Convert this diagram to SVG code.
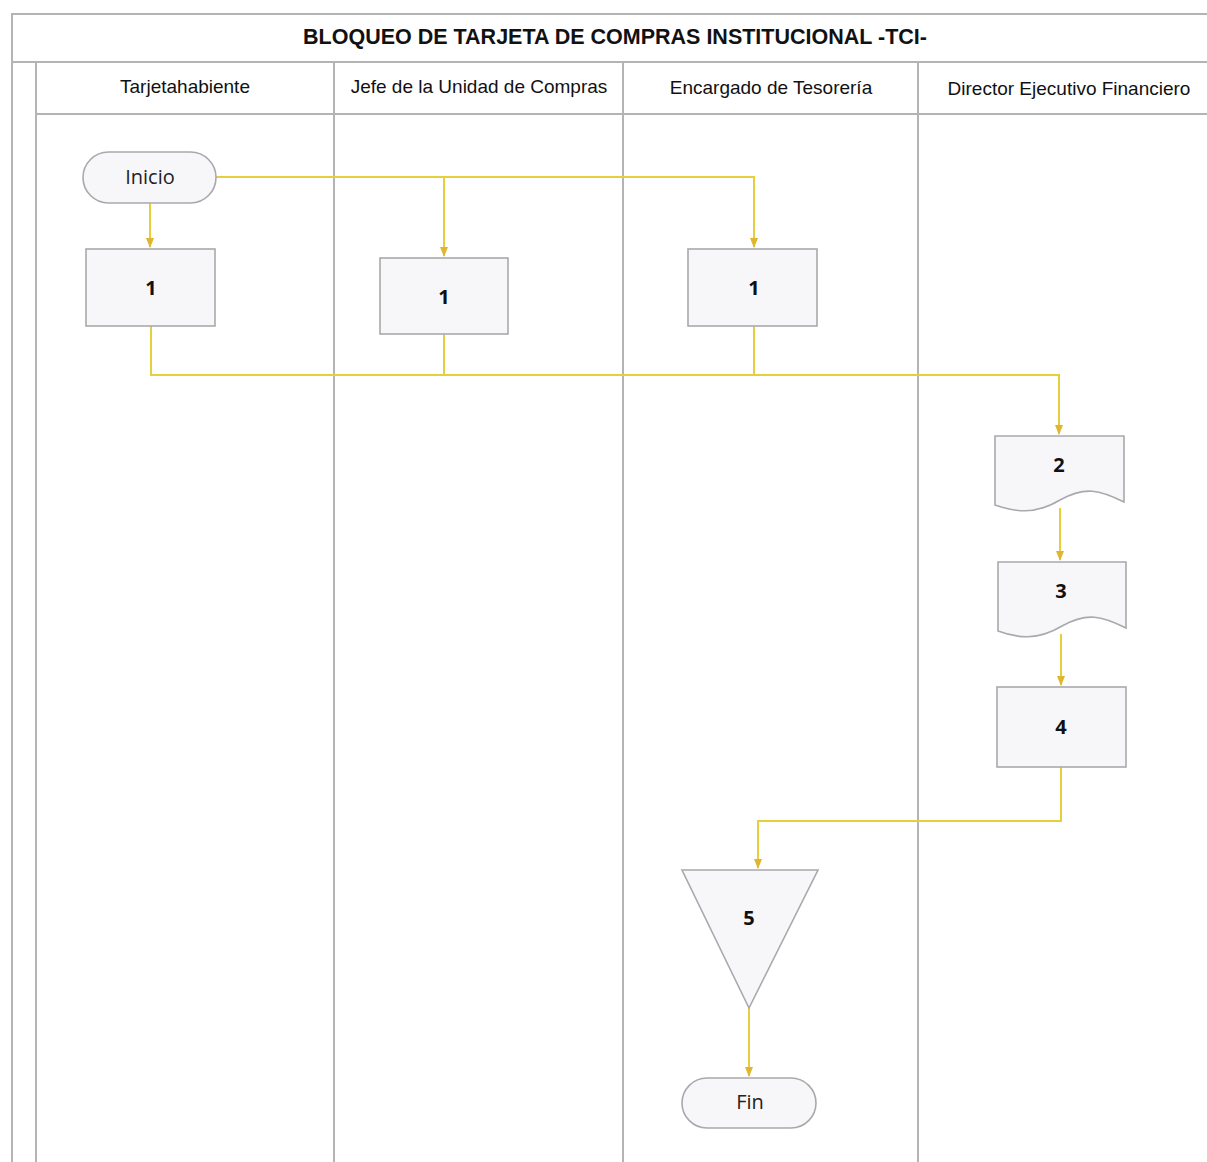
<svg xmlns="http://www.w3.org/2000/svg" width="1207" height="1162" viewBox="0 0 1207 1162">
<style>
.frame{fill:none;stroke:#b4b4b4;stroke-width:2}
.hdr{font-family:"Liberation Sans",Arial,sans-serif;font-size:19px;fill:#111;text-anchor:middle}
.title{font-family:"Liberation Sans",Arial,sans-serif;font-size:21.5px;font-weight:bold;fill:#111;text-anchor:middle}
.node{fill:#f7f7f9;stroke:#a9a9ad;stroke-width:1.6}
.lbl{font-family:"Open Sans","Noto Sans",sans-serif;font-size:20px;font-weight:bold;fill:#111;text-anchor:middle}
.term{font-family:"Open Sans","Noto Sans",sans-serif;font-size:20px;fill:#222;text-anchor:middle}
.con{fill:none;stroke:#e6cf3c;stroke-width:2}
</style>
<defs>
<marker id="arr" viewBox="0 0 10 10" refX="9" refY="5" markerWidth="5" markerHeight="5" orient="auto">
<path d="M0,1 L10,5 L0,9 z" fill="#e0b62e"/>
</marker>
</defs>
<rect width="1207" height="1162" fill="#ffffff"/>
<g id="pool">
<path class="frame" d="M12,1162 V14 H1207"/>
<line class="frame" x1="12" y1="62" x2="1207" y2="62"/>
<line class="frame" x1="36" y1="114" x2="1207" y2="114"/>
<line class="frame" x1="36" y1="62" x2="36" y2="1162"/>
<line class="frame" x1="334" y1="62" x2="334" y2="1162"/>
<line class="frame" x1="623" y1="62" x2="623" y2="1162"/>
<line class="frame" x1="918" y1="62" x2="918" y2="1162"/>
<text class="title" x="615" y="44">BLOQUEO DE TARJETA DE COMPRAS INSTITUCIONAL -TCI-</text>
<text class="hdr" x="185" y="93">Tarjetahabiente</text>
<text class="hdr" x="479" y="93">Jefe de la Unidad de Compras</text>
<text class="hdr" x="771" y="94">Encargado de Tesorería</text>
<text class="hdr" x="1069" y="95">Director Ejecutivo Financiero</text>
</g>
<g id="connectors">
<path class="con" d="M216,177 H754 V247" marker-end="url(#arr)"/>
<path class="con" d="M444,177 V256" marker-end="url(#arr)"/>
<path class="con" d="M150,203 V247" marker-end="url(#arr)"/>
<path class="con" d="M151,326 V375 H1059 V434" marker-end="url(#arr)"/>
<path class="con" d="M444,334 V375"/>
<path class="con" d="M754,326 V375"/>
<path class="con" d="M1060,508 V560" marker-end="url(#arr)"/>
<path class="con" d="M1061,634 V685" marker-end="url(#arr)"/>
<path class="con" d="M1061,767 V821 H758 V868" marker-end="url(#arr)"/>
<path class="con" d="M749,1008 V1076" marker-end="url(#arr)"/>
</g>
<g id="inicio">
<rect class="node" x="83" y="152" width="133" height="51" rx="25.5"/>
<text class="term" x="150" y="184">Inicio</text>
</g>
<g id="n1a">
<rect class="node" x="86" y="249" width="129" height="77"/>
<text class="lbl" x="151" y="295">1</text>
</g>
<g id="n1b">
<rect class="node" x="380" y="258" width="128" height="76"/>
<text class="lbl" x="444" y="304">1</text>
</g>
<g id="n1c">
<rect class="node" x="688" y="249" width="129" height="77"/>
<text class="lbl" x="754" y="295">1</text>
</g>
<g id="n2">
<path class="node" d="M995,436 H1124 V502 C1100,490 1085,486 1060,500 C1035,515 1015,512 995,505 Z"/>
<text class="lbl" x="1059" y="472">2</text>
</g>
<g id="n3">
<path class="node" d="M998,562 H1126 V628 C1102,616 1087,612 1062,626 C1037,641 1017,638 998,631 Z"/>
<text class="lbl" x="1061" y="598">3</text>
</g>
<g id="n4">
<rect class="node" x="997" y="687" width="129" height="80"/>
<text class="lbl" x="1061" y="734">4</text>
</g>
<g id="n5">
<path class="node" d="M682,870 H818 L749,1008 Z"/>
<text class="lbl" x="749" y="925">5</text>
</g>
<g id="fin">
<rect class="node" x="682" y="1078" width="134" height="50" rx="25"/>
<text class="term" x="750" y="1109">Fin</text>
</g>
</svg>
